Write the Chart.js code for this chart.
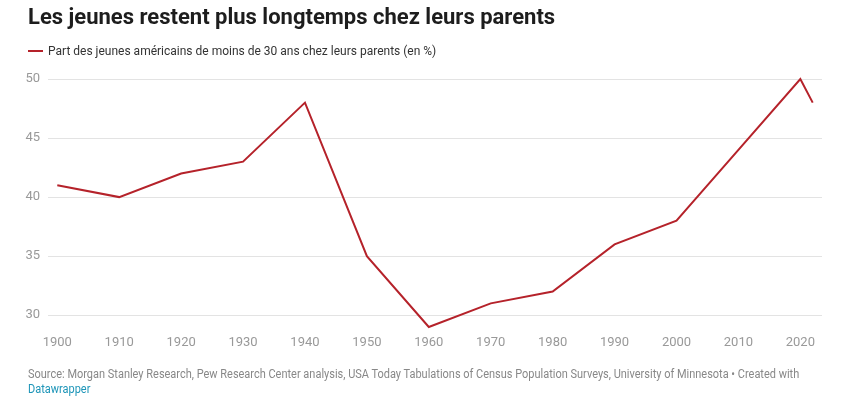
<!DOCTYPE html>
<html><head><meta charset="utf-8">
<script src="https://cdn.jsdelivr.net/npm/chart.js@4/dist/chart.umd.min.js"></script>
<style>
html,body{margin:0;padding:0;background:#fff;width:845px;height:399px;overflow:hidden;font-family:Roboto,"Noto Sans",sans-serif;}
#title{position:absolute;left:28px;top:4px;font-size:22px;font-weight:700;color:#1d1d1d;white-space:nowrap;}
#legend{position:absolute;left:28px;top:44px;font-size:12px;color:#333;white-space:nowrap;display:flex;align-items:center;}
#legend span.sw{display:inline-block;width:15px;height:2px;background:#b5222a;margin-right:5px;}
#src{position:absolute;left:28px;top:367px;font-size:12px;color:#888;line-height:15px;white-space:nowrap;transform:scaleX(0.915);transform-origin:0 0;}
#src a{color:#1d95b8;text-decoration:none;}
#wrap{position:absolute;left:0;top:0;width:845px;height:399px;}
</style></head>
<body>
<div id="wrap"><canvas id="c" width="845" height="399"></canvas></div>
<div id="title">Les jeunes restent plus longtemps chez leurs parents</div>
<div id="legend"><span class="sw"></span>Part des jeunes américains de moins de 30 ans chez leurs parents (en %)</div>
<div id="src">Source: Morgan Stanley Research, Pew Research Center analysis, USA Today Tabulations of Census Population Surveys, University of Minnesota • Created with<br><a>Datawrapper</a></div>
<script>
const years = [1900,1910,1920,1930,1940,1950,1960,1970,1980,1990,2000,2010,2020,2022];
const shares = [41,40,42,43,48,35,29,31,32,36,38,44,50,48];
const xTicks = [1900,1910,1920,1930,1940,1950,1960,1970,1980,1990,2000,2010,2020];
const yTicks = [30,35,40,45,50];
const seriesLabel = "Part des jeunes américains de moins de 30 ans chez leurs parents (en %)";

new Chart(document.getElementById('c'), {
  type: 'line',
  data: {
    datasets: [{
      label: seriesLabel,
      data: years.map((y,i)=>({x:y,y:shares[i]})),
      borderColor: '#b5222a',
      borderWidth: 2,
      pointRadius: 0,
      tension: 0,
      clip: false,
      fill: false
    }]
  },
  options: {
    responsive: false,
    animation: false,
    events: [],
    layout: { padding: { top: 79, right: 23, left: 0, bottom: 44 } },
    plugins: { legend: { display: false }, tooltip: { enabled: false } },
    scales: {
      x: {
        type: 'linear', min: 1898.5, max: 2023.5,
        afterBuildTicks: s => { s.ticks = xTicks.map(v=>({value:v})); },
        afterFit: s => { s.height = 28; },
        grid: { display: false, drawTicks: false },
        border: { display: false },
        ticks: { color: '#999', font: { family: 'Roboto', size: 13 }, padding: 8, maxRotation: 0, autoSkip: false, callback: v => String(v) }
      },
      y: {
        min: 29, max: 50,
        afterBuildTicks: s => { s.ticks = yTicks.map(v=>({value:v})); },
        afterFit: s => { s.width = 48; },
        grid: { color: '#e3e3e3', drawTicks: false, lineWidth: 1 },
        border: { display: false },
        ticks: { color: '#999', font: { family: 'Roboto', size: 13 }, padding: 8, callback: v => String(v) }
      }
    }
  }
});
</script>
</body></html>
